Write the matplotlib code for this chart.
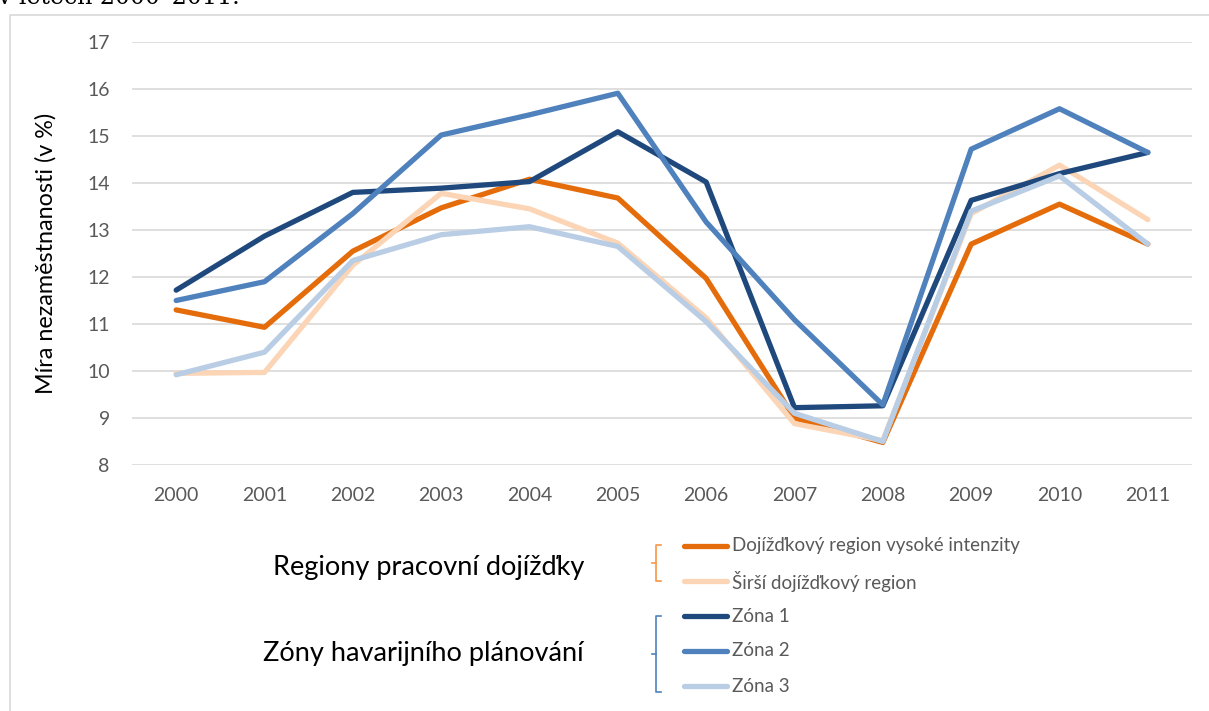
import matplotlib
matplotlib.use("Agg")
import matplotlib.pyplot as plt

plt.rcParams['font.family'] = ['Lato', 'DejaVu Sans']

# data
years = ['2000', '2001', '2002', '2003', '2004', '2005',
         '2006', '2007', '2008', '2009', '2010', '2011']
dojizdkovy_vysoke = [11.30, 10.93, 12.55, 13.47, 14.08, 13.68, 11.97, 9.00, 8.48, 12.70, 13.55, 12.70]
sirsi_dojizdkovy = [9.95, 9.97, 12.25, 13.78, 13.45, 12.72, 11.13, 8.88, 8.52, 13.35, 14.38, 13.22]
zona1 = [11.72, 12.87, 13.80, 13.89, 14.03, 15.09, 14.02, 9.22, 9.26, 13.63, 14.20, 14.65]
zona2 = [11.50, 11.90, 13.35, 15.02, 15.45, 15.91, 13.17, 11.09, 9.28, 14.72, 15.58, 14.65]
zona3 = [9.92, 10.40, 12.35, 12.90, 13.07, 12.65, 11.05, 9.10, 8.50, 13.40, 14.15, 12.70]

series = [dojizdkovy_vysoke, sirsi_dojizdkovy, zona1, zona2, zona3]
labels = ['Dojížďkový region vysoké intenzity', 'Širší dojížďkový region',
          'Zóna 1', 'Zóna 2', 'Zóna 3']
colors = ['#E46C0A', '#FBD5B5', '#1F497D', '#4F81BD', '#B9CDE5']

group_labels = ['Regiony pracovní dojížďky', 'Zóny havarijního plánování']

W, H = 1209, 711
fig = plt.figure(figsize=(W / 100, H / 100), dpi=100)
fig.patch.set_facecolor('white')

# main plot area
ax = fig.add_axes([132 / W, 1 - 465 / H, 1060 / W, 423 / H])
x = list(range(len(years)))
for vals, lab, col in zip(series, labels, colors):
    ax.plot(x, vals, color=col, lw=3.8, label=lab,
            solid_joinstyle='round', solid_capstyle='round')

ax.set_xlim(-0.5, len(years) - 0.5)
ax.set_ylim(8, 17)
ax.set_yticks(range(8, 18))
ax.set_xticks(x)
ax.set_xticklabels(years)
ax.tick_params(length=0, labelsize=14, labelcolor='#595959', pad=16)
ax.yaxis.grid(True, color='#D9D9D9', lw=1.2)
ax.set_axisbelow(True)
for s in ax.spines.values():
    s.set_visible(False)
ax.set_ylabel('Míra nezaměstnanosti (v %)', fontsize=16.8, color='black')
ax.yaxis.set_label_coords((57 - 132) / 1060, 0.5)

# overlay in pixel coordinates for the frame, legend and brackets
ov = fig.add_axes([0, 0, 1, 1], zorder=-1)
ov.set_xlim(0, W)
ov.set_ylim(H, 0)
ov.axis('off')
ov.plot([9.5, 9.5, W + 5], [H + 5, 14.5, 14.5], color='#D9D9D9', lw=1.2)

ov2 = fig.add_axes([0, 0, 1, 1])
ov2.set_xlim(0, W)
ov2.set_ylim(H, 0)
ov2.axis('off')
ov2.patch.set_alpha(0)

row_y = [546, 581, 616, 651, 686]
for yy, lab, col in zip(row_y, labels, colors):
    ov2.plot([684, 727], [yy, yy], color=col, lw=3.8, solid_capstyle='round')
    ov2.text(732, yy, lab, fontsize=13.5, color='#595959', va='center', ha='left')

# brackets
def bracket(y0, y1, col):
    ym = (y0 + y1) / 2
    ov2.plot([661, 656, 656, 661], [y0, y0, y1, y1], color=col, lw=1.2)
    ov2.plot([652, 656], [ym, ym], color=col, lw=1.2)

bracket(545, 581, '#F79646')
bracket(616, 692, '#4F81BD')

ov2.text(584, 567, group_labels[0], fontsize=19.5, color='black', va='center', ha='right')
ov2.text(584, 653, group_labels[1], fontsize=19.5, color='black', va='center', ha='right')

# caption cut off at the top of the page
ov2.text(-2, 4, 'v letech 2000–2011.', fontsize=17, family='DejaVu Serif',
         color='black', va='baseline', ha='left')

fig.savefig('out.png', dpi=100)
